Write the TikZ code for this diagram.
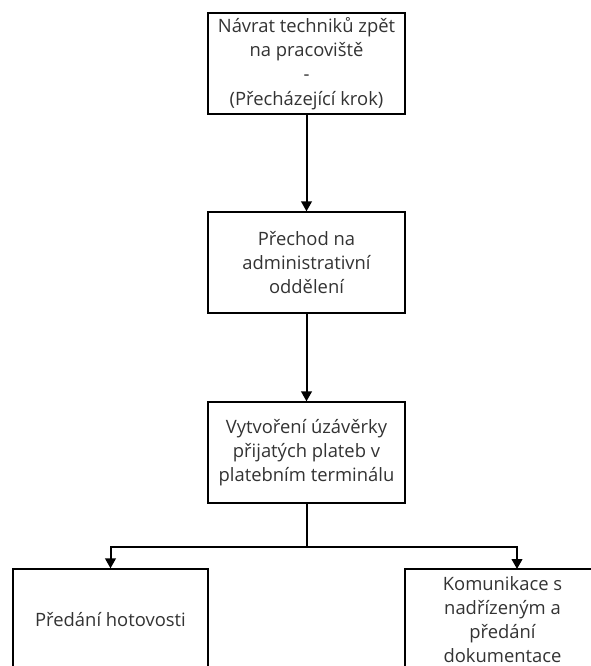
\documentclass[tikz,border=0pt]{standalone}
\usepackage{fontspec}
\setmainfont{Open Sans}
\usepackage{tikz}
\usetikzlibrary{arrows.meta, positioning}

\definecolor{boxtext}{HTML}{333333}

\begin{document}
\begin{tikzpicture}[x=0.75pt, y=-0.75pt,
    box/.style = {draw, line width=1pt, fill=white, text=boxtext,
                  align=center, minimum width=147.75pt, minimum height=75.75pt,
                  inner sep=1pt, font=\fontsize{13.8}{18.2}\selectfont},
    flow/.style = {line width=1.5pt, -{Triangle[width=8pt, length=7.5pt]}}]
    \useasboundingbox (0,0) rectangle (591,666);
    \clip (0,0) rectangle (591,666);

    \node (back) [box] at (306.5,63.5) {Návrat techniků zpět\\na pracoviště\\-\\(Přecházející krok)};
    \node (admin) [box] at (306.5,262.5) {Přechod na\\administrativní\\oddělení};
    \node (close) [box] at (306.5,452.5) {Vytvoření úzávěrky\\přijatých plateb v\\platebním terminálu};

    \node (cash) [box, minimum width=146.25pt] at (110.5,619.5) {Předání hotovosti};
    \node (docs) [box, minimum width=146.25pt] at (502.5,619.5) {Komunikace s\\nadřízeným a\\předání\\dokumentace};

    \coordinate (split) at (306.5,547);
    \coordinate (docsin) at (517,569);

\path [flow]
    (back) edge (admin)
    (admin) edge (close);

\draw [line width=1.5pt] (close) -- (split);
\draw [flow] (split) -| (cash);
\draw [flow] (split) -| (docsin);

\end{tikzpicture}
\end{document}
